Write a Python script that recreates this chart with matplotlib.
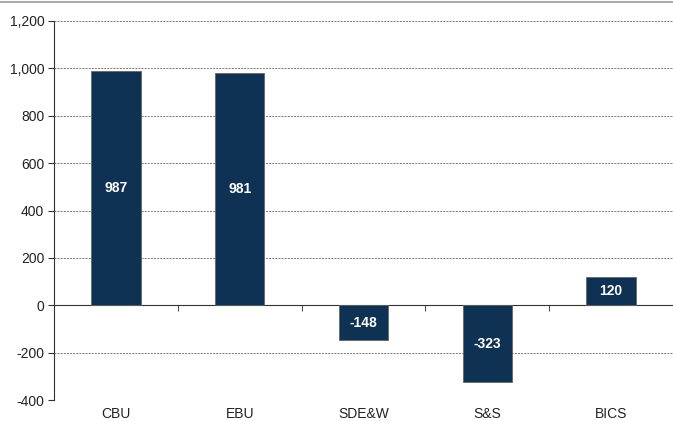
import matplotlib
matplotlib.use("Agg")
import matplotlib.pyplot as plt
from matplotlib.lines import Line2D
from matplotlib.ticker import FuncFormatter, FixedLocator
import numpy as np

categories = ["CBU", "EBU", "SDE&W", "S&S", "BICS"]
values = [987, 981, -148, -323, 120]
yticks = [-400, -200, 0, 200, 400, 600, 800, 1000, 1200]

plt.rcParams['font.family'] = ['Liberation Sans', 'DejaVu Sans']

fig = plt.figure(figsize=(6.73, 4.21), dpi=100)
ax = fig.add_axes([54/673, 21/421, 1 - 54/673, 379/421])

x = np.arange(len(categories))
bar_color = "#0F3153"
ax.bar(x, values, width=0.4, color=bar_color, edgecolor="#666666", linewidth=0.6, zorder=3)

for xi, v in zip(x, values):
    ax.text(xi, v / 2, f"{v}", ha="center", va="center", color="white",
            fontsize=10, fontweight="bold", zorder=4)

ax.set_xlim(-0.5, len(categories) - 0.5)
ax.set_ylim(-400, 1200)
ax.set_yticks(yticks)
ax.yaxis.set_major_formatter(FuncFormatter(lambda v, p: f"{int(v):,}"))
ax.tick_params(axis="y", direction="out", length=4, width=0.8, color="#333333",
               labelsize=10, labelcolor="#222222", pad=3)

for yv in yticks:
    if yv != 0:
        ax.axhline(yv, color="#777777", linestyle=(0, (2, 1.2)), linewidth=0.7, zorder=1)

for s in ["top", "right"]:
    ax.spines[s].set_visible(False)
ax.spines["left"].set_color("#333333")
ax.spines["left"].set_linewidth(0.8)
ax.spines["bottom"].set_position(("data", 0))
ax.spines["bottom"].set_color("#333333")
ax.spines["bottom"].set_linewidth(0.8)

ax.xaxis.set_major_locator(FixedLocator(list(x)))
ax.xaxis.set_minor_locator(FixedLocator(list(x[:-1] + 0.5)))
ax.tick_params(axis="x", which="major", length=0, labelbottom=False)
ax.tick_params(axis="x", which="minor", direction="out", length=4, width=0.8, color="#555555")

sec = ax.secondary_xaxis("bottom")
sec.set_xticks(list(x))
sec.set_xticklabels(categories)
sec.spines["bottom"].set_visible(False)
sec.tick_params(axis="x", length=0, labelsize=10, labelcolor="#222222", pad=5)

fig.add_artist(Line2D([0, 1], [1 - 1.5/421, 1 - 1.5/421], transform=fig.transFigure,
                      color="#999999", linewidth=1.2))

fig.savefig("out.png", dpi=100)
